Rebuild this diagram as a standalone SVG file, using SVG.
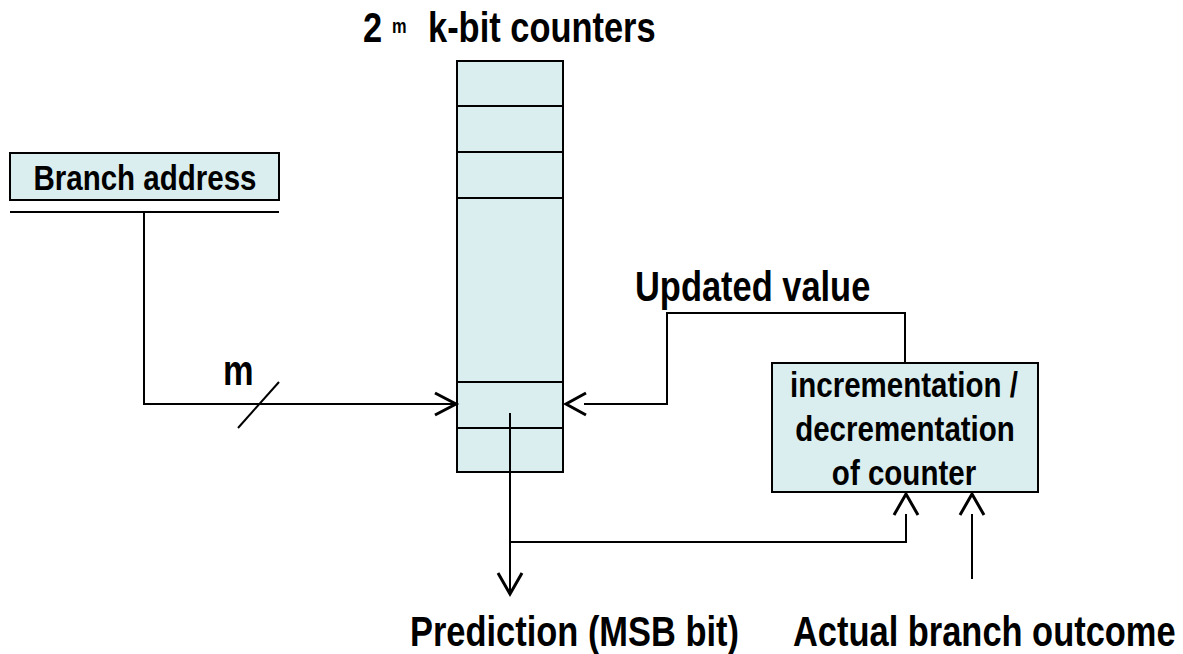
<svg xmlns="http://www.w3.org/2000/svg" width="1183" height="654" viewBox="0 0 1183 654">
<style>
.t{font-family:"Liberation Sans",Arial,sans-serif;font-weight:bold;fill:#000}
.box{fill:#DAEDEF;stroke:#000;stroke-width:2}
.ln{fill:none;stroke:#000;stroke-width:2}
.ah{fill:none;stroke:#000;stroke-width:3;stroke-linejoin:miter}
</style>
<rect width="1183" height="654" fill="#fff"/>
<g id="title">
<text class="t" transform="translate(363,42) scale(0.82,1)" font-size="42">2</text>
<text class="t" transform="translate(392,33) scale(0.82,1)" font-size="20">m</text>
<text class="t" transform="translate(428,42) scale(0.82,1)" font-size="42">k-bit counters</text>
</g>
<g id="counters">
<rect class="box" x="457" y="61" width="106" height="411"/>
<path class="ln" d="M457 106H563M457 152H563M457 198H563M457 382H563M457 428H563"/>
</g>
<g id="branch-address">
<rect class="box" x="10" y="153" width="269" height="47"/>
<text class="t" transform="translate(145,190) scale(0.82,1)" font-size="36" text-anchor="middle">Branch address</text>
<path class="ln" d="M10 212H279"/>
</g>
<g id="inc-dec">
<rect class="box" x="772" y="363" width="266" height="129"/>
<text class="t" transform="translate(904,397) scale(0.82,1)" font-size="36" text-anchor="middle">incrementation /</text>
<text class="t" transform="translate(905,441) scale(0.82,1)" font-size="36" text-anchor="middle">decrementation</text>
<text class="t" transform="translate(904,485) scale(0.82,1)" font-size="36" text-anchor="middle">of counter</text>
</g>
<g id="labels">
<text class="t" transform="translate(635,301) scale(0.82,1)" font-size="42">Updated value</text>
<text class="t" transform="translate(223,385) scale(0.82,1)" font-size="42">m</text>
<text class="t" transform="translate(410,646) scale(0.82,1)" font-size="42">Prediction (MSB bit)</text>
<text class="t" transform="translate(793,646) scale(0.82,1)" font-size="42">Actual branch outcome</text>
</g>
<g id="connectors">
<path class="ln" d="M144 212V404H455"/>
<path class="ah" d="M435 393L456 404L435 415"/>
<path class="ln" d="M238 428L279 382"/>
<path class="ln" d="M584 404H667V313H905V363"/>
<path class="ah" d="M586 393L566 404L586 415"/>
<path class="ln" d="M510 413V593"/>
<path class="ah" d="M498 573L510 594L522 573"/>
<path class="ln" d="M510 542H906V514"/>
<path class="ah" d="M894 515L906 494L918 515"/>
<path class="ln" d="M972 579V514"/>
<path class="ah" d="M960 515L972 494L984 515"/>
</g>
</svg>
